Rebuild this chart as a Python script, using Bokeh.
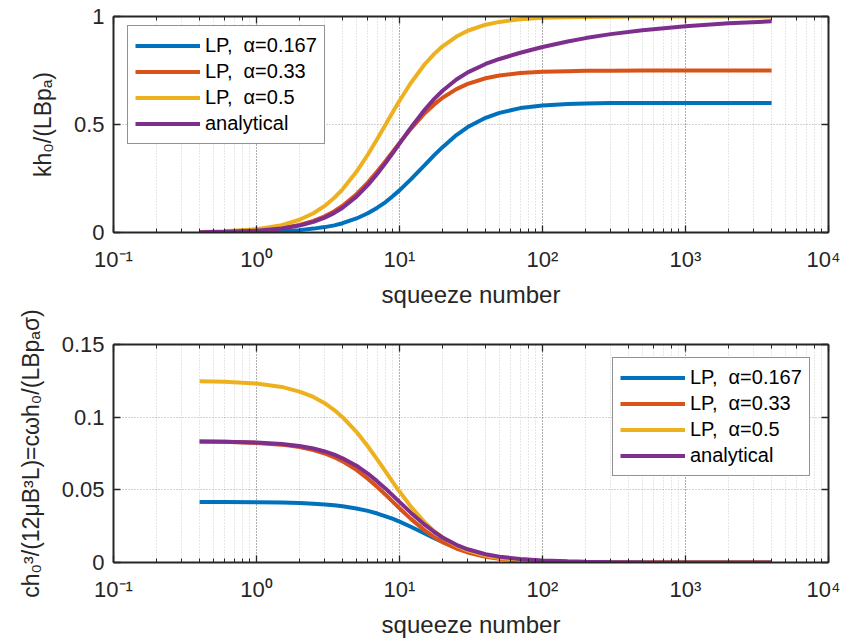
from bokeh.plotting import figure
from bokeh.layouts import column
from bokeh.models import (LogAxis, LinearAxis, LogTicker, FixedTicker,
                          CustomJSTickFormatter, Legend, LegendItem, Range1d)
from bokeh.embed import file_html
from bokeh.resources import INLINE

# ---------------- data ----------------
sigma = [0.4, 0.6, 1, 1.5, 2, 2.5, 3, 3.5, 4, 5, 6, 7, 8, 9, 10, 12, 15, 17.5, 20, 25, 30,
         40, 50, 70, 100, 150, 200, 300, 500, 1000, 2000, 4000]

k_lp167 = [0.000, 0.001, 0.003, 0.006, 0.011, 0.018, 0.025, 0.033, 0.043, 0.065, 0.089,
           0.115, 0.141, 0.169, 0.195, 0.246, 0.312, 0.358, 0.395, 0.451, 0.488, 0.531,
           0.554, 0.576, 0.588, 0.595, 0.597, 0.599, 0.600, 0.600, 0.600, 0.600]
k_lp33 = [0.0015, 0.0033, 0.0091, 0.0203, 0.0353, 0.0537, 0.075, 0.0985, 0.124, 0.177,
          0.231, 0.283, 0.331, 0.375, 0.414, 0.480, 0.552, 0.593, 0.624, 0.664, 0.688,
          0.714, 0.727, 0.738, 0.744, 0.747, 0.749, 0.749, 0.750, 0.750, 0.750, 0.750]
k_lp5 = [0.0025, 0.0056, 0.0154, 0.034, 0.059, 0.089, 0.123, 0.161, 0.200, 0.281, 0.360,
         0.434, 0.500, 0.559, 0.610, 0.692, 0.779, 0.827, 0.862, 0.907, 0.934, 0.962,
         0.975, 0.987, 0.994, 0.997, 0.998, 0.999, 1.000, 1.000, 1.000, 1.000]
k_anal = [0.0013, 0.003, 0.0083, 0.0183, 0.032, 0.0489, 0.0687, 0.0907, 0.1146, 0.1659,
          0.2192, 0.2719, 0.3222, 0.3690, 0.4118, 0.4852, 0.5683, 0.6185, 0.6564, 0.7083,
          0.7412, 0.7802, 0.8034, 0.8321, 0.8586, 0.8845, 0.900, 0.9184, 0.9368, 0.9553,
          0.9684, 0.9776]

c_lp167 = [0.0416, 0.0416, 0.0415, 0.0412, 0.0409, 0.0405, 0.0399, 0.0394, 0.0387, 0.0372,
           0.0355, 0.0337, 0.0318, 0.0300, 0.0281, 0.0246, 0.0200, 0.0168, 0.0142, 0.0104,
           0.0078, 0.0048, 0.0032, 0.0017, 0.0008, 0.0004, 0.0002, 0.0001, 0.0, 0.0, 0.0, 0.0]
c_lp33 = [0.0832, 0.0830, 0.0823, 0.0811, 0.0794, 0.0774, 0.0750, 0.0724, 0.0696, 0.0637,
          0.0577, 0.0519, 0.0466, 0.0417, 0.0373, 0.0300, 0.0221, 0.0174, 0.0140, 0.0096,
          0.0069, 0.0040, 0.0026, 0.0014, 0.0007, 0.0003, 0.0002, 0.0001, 0.0, 0.0, 0.0, 0.0]
c_lp5 = [0.1247, 0.1243, 0.1231, 0.1208, 0.1176, 0.1139, 0.1096, 0.1049, 0.1000, 0.0899,
         0.0800, 0.0708, 0.0625, 0.0552, 0.0488, 0.0385, 0.0277, 0.0216, 0.0172, 0.0116,
         0.0083, 0.0048, 0.0031, 0.0016, 0.0008, 0.0004, 0.0002, 0.0001, 0.0, 0.0, 0.0, 0.0]
c_anal = [0.0832, 0.0830, 0.0825, 0.0815, 0.0801, 0.0784, 0.0764, 0.0742, 0.0717, 0.0666,
          0.0612, 0.0558, 0.0508, 0.0460, 0.0417, 0.0343, 0.0260, 0.0210, 0.0172, 0.0122,
          0.0091, 0.0057, 0.0040, 0.0024, 0.0014, 0.0008, 0.0005, 0.0003, 0.0001, 0.0,
          0.0, 0.0]

y_ticks_top = [0, 0.5, 1]
y_ticks_bot = [0, 0.05, 0.1, 0.15]

series_labels = ["LP,\u00a0\u00a0\u03b1=0.167", "LP,\u00a0\u00a0\u03b1=0.33",
                 "LP,\u00a0\u00a0\u03b1=0.5", "analytical"]
x_label = "squeeze number"
y_label_top = "kh\u2080/(LBp\u2090)"
y_label_bot = "ch\u2080\u00b3/(12\u03bcB\u00b3L)=c\u03c9h\u2080/(LBp\u2090\u03c3)"

# ---------------- style ----------------
FONT = "Liberation Sans"
AX = "#262626"
COLORS = ["#0072BD", "#D95319", "#EDB120", "#7E2F8E"]

LOG_FMT = """
const sup = {"-":"\u207b","0":"\u2070","1":"\u00b9","2":"\u00b2","3":"\u00b3","4":"\u2074",
             "5":"\u2075","6":"\u2076","7":"\u2077","8":"\u2078","9":"\u2079"};
const e = Math.round(Math.log10(tick));
return "10" + String(e).split("").map(c => sup[c]).join("");
"""
LIN_FMT = "return tick.toFixed(2).replace(/\\.?0+$/, '');"
EMPTY_FMT = "return '';"


def style_axis(ax, minor=True):
    ax.axis_line_color = AX
    ax.axis_line_width = 2
    ax.major_tick_line_color = AX
    ax.minor_tick_line_color = AX
    ax.major_tick_line_width = 1.3
    ax.minor_tick_line_width = 1
    ax.major_tick_in = 7
    ax.major_tick_out = 0
    ax.minor_tick_in = 4 if minor else 0
    ax.minor_tick_out = 0
    ax.major_label_text_font = FONT
    ax.major_label_text_font_size = "22px"
    ax.major_label_text_color = AX
    ax.axis_label_text_font = FONT
    ax.axis_label_text_font_style = "normal"
    ax.axis_label_text_color = AX


def make_panel(yend, yticks, ys, ylab, legend_xy, height, top_border, bottom_border):
    p = figure(width=840, height=height, x_axis_type="log",
               x_range=Range1d(0.1, 1e4), y_range=Range1d(0, yend),
               output_backend="svg", toolbar_location=None,
               min_border_left=113, min_border_right=12,
               min_border_top=top_border, min_border_bottom=bottom_border)
    p.outline_line_color = None
    p.background_fill_color = "white"
    p.border_fill_color = "white"

    # x axis (bottom)
    xa = p.xaxis[0]
    xa.formatter = CustomJSTickFormatter(code=LOG_FMT)
    xa.axis_label = x_label
    style_axis(xa)
    xa.axis_label_text_font_size = "24px"
    xa.major_label_standoff = 14
    xa.axis_label_standoff = 6

    # y axis (left)
    yt = FixedTicker(ticks=yticks, minor_ticks=[])
    ya = p.yaxis[0]
    ya.ticker = yt
    p.ygrid.ticker = yt
    ya.formatter = CustomJSTickFormatter(code=LIN_FMT)
    ya.axis_label = ylab
    style_axis(ya, minor=False)
    ya.axis_label_text_font_size = "23px"
    ya.major_label_standoff = 9
    ya.axis_label_standoff = 15

    # box axes (top/right) without labels
    top = LogAxis(ticker=LogTicker(), formatter=CustomJSTickFormatter(code=EMPTY_FMT))
    style_axis(top)
    top.major_label_standoff = 0
    p.add_layout(top, "above")
    right = LinearAxis(ticker=FixedTicker(ticks=yticks, minor_ticks=[]),
                       formatter=CustomJSTickFormatter(code=EMPTY_FMT))
    style_axis(right, minor=False)
    right.major_label_standoff = 0
    p.add_layout(right, "right")

    # grids
    p.xgrid.grid_line_color = AX
    p.xgrid.grid_line_alpha = 0.4
    p.xgrid.grid_line_dash = "1 2"
    p.xgrid.minor_grid_line_color = AX
    p.xgrid.minor_grid_line_alpha = 0.22
    p.xgrid.minor_grid_line_dash = "1 2"
    p.ygrid.grid_line_color = AX
    p.ygrid.grid_line_alpha = 0.4
    p.ygrid.grid_line_dash = "1 2"

    items = []
    for y, col, lab in zip(ys, COLORS, series_labels):
        r = p.line(sigma, y, line_color=col, line_width=4)
        items.append(LegendItem(label=lab, renderers=[r]))

    leg = Legend(items=items, location=legend_xy)
    leg.label_text_font = FONT
    leg.label_text_font_size = "20px"
    leg.label_text_color = "black"
    leg.border_line_color = AX
    leg.border_line_width = 1.2
    leg.background_fill_color = "white"
    leg.background_fill_alpha = 1
    leg.glyph_width = 65
    leg.glyph_height = 25
    leg.label_height = 25
    leg.label_standoff = 5
    leg.padding = 7
    leg.spacing = 1
    leg.margin = 0
    p.add_layout(leg)
    return p


p1 = make_panel(1.0, y_ticks_top, [k_lp167, k_lp33, k_lp5, k_anal], y_label_top, (14, 88),
                height=310, top_border=16, bottom_border=76)
p2 = make_panel(0.15, y_ticks_bot, [c_lp167, c_lp33, c_lp5, c_anal], y_label_bot, (499, 86),
                height=333, top_border=34, bottom_border=81)

layout = column(p1, p2, spacing=0)
open("out.html", "w", encoding="utf-8").write(file_html(layout, INLINE))
